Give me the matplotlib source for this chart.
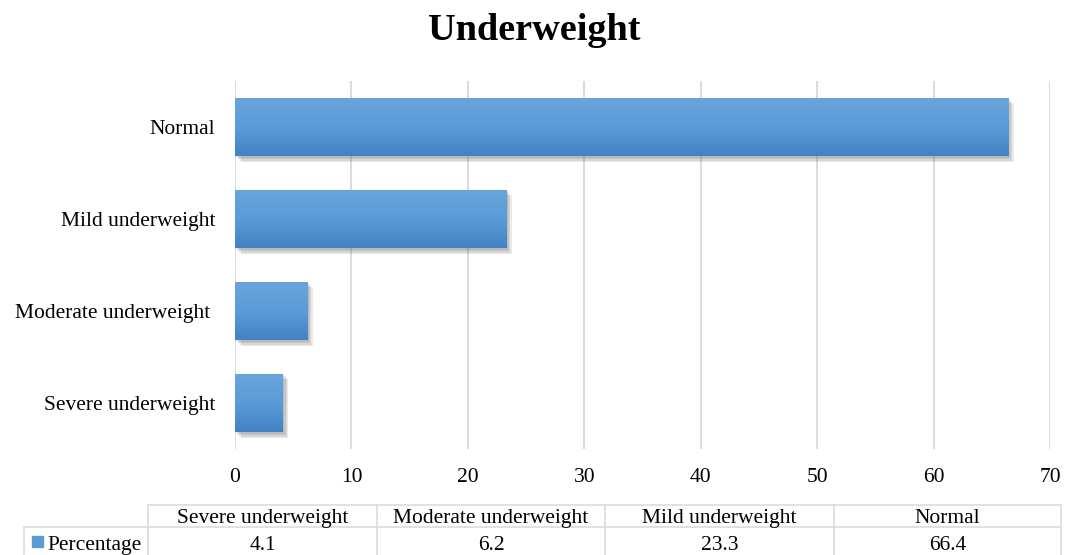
import numpy as np
import matplotlib.pyplot as plt
import matplotlib.patheffects as pe
from matplotlib.patches import Rectangle
from matplotlib.colors import LinearSegmentedColormap

plt.rcParams['font.family'] = ['Liberation Serif', 'DejaVu Serif']

categories = ['Severe underweight', 'Moderate underweight', 'Mild underweight', 'Normal']
y_labels = ['Severe underweight', 'Moderate underweight ', 'Mild underweight', 'Normal']
percentage = [4.1, 6.2, 23.3, 66.4]
series_name = 'Percentage'
xticks = [0, 10, 20, 30, 40, 50, 60, 70]

W, H = 1069, 555
fig = plt.figure(figsize=(W / 100, H / 100), dpi=100)
ax = fig.add_axes([235 / W, 1 - 449 / H, 815 / W, 368 / H])

grid_col = '#dcdcdc'
bar_col = '#5b9bd5'
grad = LinearSegmentedColormap.from_list('bar', ['#4383c4', '#5a9bd8', '#6aa5dd'])

# soft drop shadow built from a few faint offset copies
shadow = [pe.SimplePatchShadow(offset=(d, -d), shadow_rgbFace='#777777', alpha=0.16)
          for d in (4, 3, 2, 1)]

y = np.arange(len(categories))
bars = ax.barh(y, percentage, height=0.64, color=bar_col, zorder=2,
               path_effects=shadow + [pe.Normal()])

# vertical gradient on each bar
g = np.linspace(0, 1, 100).reshape(-1, 1)
for b in bars:
    x0, y0 = b.get_x(), b.get_y()
    im = ax.imshow(g, cmap=grad, aspect='auto', origin='lower',
                   extent=[x0, x0 + b.get_width(), y0, y0 + b.get_height()], zorder=3)
    im.set_clip_path(b)

ax.set_xlim(0, 70)
ax.set_ylim(-0.5, 3.5)
ax.set_xticks(xticks)
ax.set_yticks(y)
ax.set_yticklabels(y_labels)
ax.grid(axis='x', color=grid_col, linewidth=1.5, zorder=0)
ax.set_axisbelow(True)
for s in ax.spines.values():
    s.set_visible(False)
ax.tick_params(axis='both', length=0, labelsize=15.5)
ax.tick_params(axis='x', pad=14)
ax.tick_params(axis='y', pad=14)

fig.text(0.5, 1 - 31 / H, 'Underweight', ha='center', va='center',
         fontsize=27.5, fontweight='bold')

# data table under the chart, laid out in pixel coordinates
tax = fig.add_axes([0, 0, 1, 1])
tax.set_xlim(0, W)
tax.set_ylim(H, 0)
tax.axis('off')

col_edges = [148, 377, 605, 834, 1061]
top, mid, bot = 505, 527, 555
lw = 1.2
tax.plot([col_edges[0], col_edges[-1]], [top, top], color=grid_col, lw=lw)
tax.plot([24, col_edges[-1]], [mid, mid], color=grid_col, lw=lw)
tax.plot([24, 24], [mid, bot], color=grid_col, lw=lw)
for xe in col_edges:
    tax.plot([xe, xe], [top, bot], color=grid_col, lw=lw)

head_base, val_base = 523, 550
for i, (cat, val) in enumerate(zip(categories, percentage)):
    xc = (col_edges[i] + col_edges[i + 1]) / 2
    tax.text(xc, head_base, cat, ha='center', va='baseline', fontsize=15.5)
    tax.text(xc, val_base, f'{val:.1f}', ha='center', va='baseline', fontsize=15.5)

tax.add_patch(Rectangle((32, 536), 11, 11, color=bar_col))
tax.text(47, val_base, series_name, ha='left', va='baseline', fontsize=15.5)

fig.savefig('out.png', dpi=100)
